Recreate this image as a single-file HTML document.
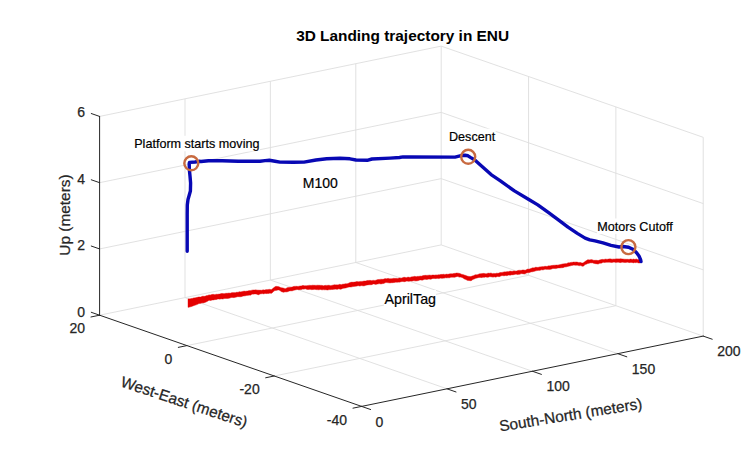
<!DOCTYPE html>
<html><head><meta charset="utf-8"><title>3D Landing trajectory in ENU</title>
<style>
html,body{margin:0;padding:0;background:#fff;width:750px;height:450px;overflow:hidden}
svg{display:block}
</style></head><body>
<svg width="750" height="450" viewBox="0 0 750 450">
<rect width="750" height="450" fill="#fff"/>
<g stroke="#dedede" stroke-width="0.9" fill="none">
<line x1="185" y1="297.62" x2="185" y2="98.84"/>
<line x1="270.4" y1="280.05" x2="270.4" y2="81.27"/>
<line x1="355.8" y1="262.48" x2="355.8" y2="63.69"/>
<line x1="441.2" y1="244.9" x2="441.2" y2="46.12"/>
<line x1="99.6" y1="315.2" x2="441.2" y2="244.9"/>
<line x1="99.6" y1="248.94" x2="441.2" y2="178.64"/>
<line x1="99.6" y1="182.68" x2="441.2" y2="112.38"/>
<line x1="99.6" y1="116.42" x2="441.2" y2="46.12"/>
<line x1="528.54" y1="275.3" x2="528.54" y2="76.52"/>
<line x1="615.88" y1="305.7" x2="615.88" y2="106.92"/>
<line x1="703.22" y1="336.1" x2="703.22" y2="137.32"/>
<line x1="441.2" y1="244.9" x2="703.22" y2="336.1"/>
<line x1="441.2" y1="178.64" x2="703.22" y2="269.84"/>
<line x1="441.2" y1="112.38" x2="703.22" y2="203.58"/>
<line x1="441.2" y1="46.12" x2="703.22" y2="137.32"/>
<line x1="185" y1="297.62" x2="447.02" y2="388.82"/>
<line x1="270.4" y1="280.05" x2="532.42" y2="371.25"/>
<line x1="355.8" y1="262.48" x2="617.82" y2="353.68"/>
<line x1="186.94" y1="345.6" x2="528.54" y2="275.3"/>
<line x1="274.28" y1="376" x2="615.88" y2="305.7"/>
</g>
<g stroke="#262626" stroke-width="1" fill="none" stroke-linecap="round">
<line x1="99.6" y1="315.2" x2="99.6" y2="116.42"/>
<line x1="99.6" y1="315.2" x2="361.62" y2="406.4"/>
<line x1="361.62" y1="406.4" x2="703.22" y2="336.1"/>
<line x1="99.6" y1="315.2" x2="91.29" y2="312.31"/>
<line x1="99.6" y1="248.94" x2="91.29" y2="246.05"/>
<line x1="99.6" y1="182.68" x2="91.29" y2="179.79"/>
<line x1="99.6" y1="116.42" x2="91.29" y2="113.53"/>
<line x1="99.6" y1="315.2" x2="90.98" y2="316.97"/>
<line x1="186.94" y1="345.6" x2="178.32" y2="347.37"/>
<line x1="274.28" y1="376" x2="265.66" y2="377.77"/>
<line x1="361.62" y1="406.4" x2="353" y2="408.17"/>
<line x1="361.62" y1="406.4" x2="370.6" y2="409.52"/>
<line x1="447.02" y1="388.82" x2="456" y2="391.95"/>
<line x1="532.42" y1="371.25" x2="541.4" y2="374.37"/>
<line x1="617.82" y1="353.68" x2="626.8" y2="356.8"/>
<line x1="703.22" y1="336.1" x2="712.2" y2="339.22"/>
</g>
<g fill="#262626" stroke="#262626" stroke-width="0.25" font-family="'Liberation Sans', Arial, Helvetica, sans-serif" font-size="14px">
<text x="85.1" y="317.4" text-anchor="end">0</text>
<text x="85.1" y="250.14" text-anchor="end">2</text>
<text x="85.1" y="183.88" text-anchor="end">4</text>
<text x="85.1" y="116.62" text-anchor="end">6</text>
<text x="85" y="332.8" text-anchor="end">20</text>
<text x="172.34" y="363.9" text-anchor="end">0</text>
<text x="259.68" y="394.3" text-anchor="end">-20</text>
<text x="347.02" y="424.7" text-anchor="end">-40</text>
<text x="375.62" y="426.6">0</text>
<text x="461.02" y="409.02">50</text>
<text x="546.42" y="391.45">100</text>
<text x="631.82" y="374.48">150</text>
<text x="717.22" y="356.3">200</text>
</g>
<text x="402.6" y="41" text-anchor="middle" font-family="'Liberation Sans', Arial, Helvetica, sans-serif" font-weight="bold" font-size="15.4px" fill="#000">3D Landing trajectory in ENU</text>
<g font-family="'Liberation Sans', Arial, Helvetica, sans-serif" font-size="15.4px" fill="#262626" stroke="#262626" stroke-width="0.25">
<text transform="translate(69.9,215) rotate(-90)" text-anchor="middle">Up (meters)</text>
<text transform="translate(119.8,386.2) rotate(18.3)">West-East (meters)</text>
<text transform="translate(500.2,431.6) rotate(-9.2)">South-North (meters)</text>
</g>
<polygon points="188,299.08 189,298.78 190,298.96 191,298.39 192,298.54 193,298.25 194,297.86 195,298.01 196,297.48 197,297.56 198,297.11 199,296.93 200,296.97 201,297.06 202,296.37 203,296.25 204,296.33 205,296.36 206,295.84 207,295.45 208,295.6 209,294.68 210,295.16 211,294.67 212,294.48 213,294.37 214,294.41 215,294.68 216,294.14 217,294.33 218,294.28 219,294 220,294.03 221,293.59 222,293.49 223,293.49 224,293.73 225,293.45 226,293.27 227,293.36 228,293.17 229,292.96 230,293.21 231,293.03 232,292.6 233,292.72 234,292.58 235,292.71 236,292.5 237,292.08 238,292.46 239,291.74 240,291.84 241,291.94 242,291.38 243,291.47 244,291.02 245,291.32 246,291.25 247,290.97 248,291.04 249,290.51 250,290.64 251,290.39 252,290.2 253,289.93 254,290.02 255,289.91 256,289.82 257,290.18 258,289.99 259,290.29 260,290.1 261,290.34 262,290.21 263,289.82 264,289.88 265,290.07 266,289.54 267,289.78 268,289.5 269,289.4 270,289.28 271,289.71 272,289.19 273,288.32 274,287.47 275,286.86 276,286.28 277,286.51 278,286.56 279,286.77 280,287.22 281,287.75 282,287.84 283,288.07 284,288.17 285,288.67 286,288.53 287,287.77 288,287.59 289,287.43 290,287.24 291,287.22 292,287.1 293,286.67 294,286.3 295,286.39 296,286.26 297,286.3 298,286.47 299,286.18 300,285.96 301,285.93 302,285.87 303,285.34 304,285.83 305,285.65 306,285.72 307,285.67 308,285.39 309,285.4 310,285.2 311,285.57 312,285.18 313,285.19 314,285.29 315,285.26 316,285.4 317,285.21 318,285.18 319,285.3 320,285.27 321,285.46 322,285.24 323,285.84 324,285.67 325,285.35 326,285.38 327,285.39 328,285.35 329,285.14 330,285.59 331,285.65 332,285.23 333,285.19 334,284.86 335,284.82 336,284.89 337,284.74 338,285.03 339,284.46 340,284.27 341,284.82 342,284.42 343,284.05 344,284.23 345,283.77 346,283.82 347,283.83 348,283.45 349,283.04 350,282.43 351,282.37 352,282.09 353,282.37 354,282.06 355,282.1 356,281.64 357,281.43 358,281.7 359,281.68 360,281.45 361,281.39 362,281.38 363,281.31 364,280.93 365,281.11 366,280.88 367,280.53 368,280.41 369,280.47 370,280.33 371,280.54 372,280.64 373,280.19 374,280.45 375,280.39 376,280.28 377,279.78 378,279.58 379,279.5 380,279.39 381,279.19 382,279.29 383,279.28 384,279.04 385,278.59 386,278.69 387,278.77 388,278.25 389,278.63 390,278.79 391,278.68 392,278.64 393,278.42 394,278.19 395,278.6 396,278.19 397,278.43 398,278.46 399,277.97 400,277.88 401,278.17 402,277.93 403,277.45 404,277.33 405,277.26 406,277.69 407,277.53 408,276.98 409,277.37 410,277.39 411,277.07 412,276.77 413,276.81 414,276.43 415,276.26 416,276.82 417,276.48 418,276.29 419,276.46 420,276 421,276.2 422,276.06 423,275.52 424,275.44 425,275.36 426,275.26 427,275.45 428,275.17 429,275.22 430,274.97 431,275.46 432,275.01 433,275.03 434,275.06 435,275.23 436,274.84 437,275.14 438,274.8 439,274.77 440,274.72 441,274.31 442,274.56 443,274.33 444,274.15 445,274.66 446,274.12 447,274.23 448,274.31 449,274.09 450,273.83 451,273.86 452,273.79 453,273.85 454,273.27 455,273.49 456,273.11 457,272.96 458,273.14 459,273.26 460,273.59 461,274.03 462,274.44 463,274.41 464,274.9 465,275.19 466,275.57 467,276.06 468,276.27 469,276.47 470,276.58 471,276.58 472,276.08 473,275.87 474,275.59 475,274.78 476,274.79 477,274.86 478,274.59 479,273.9 480,273.69 481,273.82 482,273.48 483,273.51 484,273.31 485,273.64 486,273.64 487,273.63 488,273.03 489,273.34 490,273.21 491,272.92 492,273.51 493,273.64 494,273.18 495,273.77 496,273.23 497,273.14 498,273.34 499,273.08 500,272.46 501,272.5 502,272.41 503,272.14 504,271.89 505,271.82 506,272.01 507,271.41 508,271.69 509,271.51 510,271.11 511,271.23 512,271.34 513,271.16 514,270.75 515,271.29 516,271.05 517,271.08 518,270.37 519,270.39 520,270.13 521,270.55 522,270.09 523,269.89 524,270 525,270.24 526,269.93 527,269.29 528,268.97 529,269.26 530,268.77 531,268.62 532,267.95 533,267.68 534,267.88 535,267.45 536,267.09 537,267.59 538,267.26 539,267.27 540,266.66 541,267.09 542,266.43 543,266.87 544,266.48 545,266.29 546,266.34 547,266.5 548,265.94 549,265.74 550,265.92 551,265.62 552,265.43 553,265.36 554,265.19 555,265.19 556,265.12 557,264.96 558,265.13 559,264.65 560,264.65 561,264.27 562,264.24 563,263.86 564,263.88 565,263.56 566,263.79 567,263.4 568,262.87 569,262.8 570,262.85 571,262.14 572,262.51 573,262.11 574,262.03 575,262.13 576,261.93 577,262.1 578,262.33 579,262.64 580,262.29 581,262.8 582,262.88 583,263 584,262.23 585,261.59 586,260.79 587,260.24 588,259.6 589,260.07 590,259.73 591,259.66 592,259.61 593,260.14 594,260.32 595,260.34 596,260.23 597,260.36 598,260.56 599,260.36 600,259.84 601,259.73 602,259.29 603,259.47 604,259.48 605,259.18 606,258.97 607,259.48 608,259.02 609,259.05 610,258.8 611,259.07 612,259.13 613,259.15 614,258.94 615,259.15 616,258.8 617,258.98 618,258.86 619,259.08 620,258.83 621,258.82 622,259.01 623,258.96 624,259.21 625,259.17 626,259.33 627,259.26 628.04,259.31 629.07,259.43 630.11,259.09 631.14,259.06 632.18,259.53 633.21,258.95 634.25,259.36 635.29,259.31 636.32,258.89 637.36,259.46 638.39,259.5 639.43,259.32 640.46,259.41 641.5,259.47 641.5,262.54 640.46,262.63 639.43,263.05 638.39,262.94 637.36,262.61 636.32,262.54 635.29,262.67 634.25,262.47 633.21,262.9 632.18,262.42 631.14,262.38 630.11,262.45 629.07,262.63 628.04,262.24 627,262.16 626,262.55 625,262.49 624,262.38 623,262.17 622,262.14 621,262.48 620,262.66 619,262.24 618,262.32 617,262.23 616,262.57 615,262.33 614,262.11 613,262.24 612,262.56 611,262.52 610,262.28 609,262.24 608,262.2 607,262.36 606,262.25 605,262.53 604,262.52 603,262.17 602,263.05 601,263.22 600,263.15 599,263.57 598,264.16 597,263.65 596,263.88 595,263.48 594,263.59 593,262.88 592,262.83 591,262.96 590,262.78 589,263.39 588,263.34 587,263.92 586,264.28 585,264.62 584,265.84 583,266.21 582,266.15 581,265.58 580,265.61 579,265.84 578,265.33 577,265.18 576,265.25 575,265.37 574,265.03 573,265.26 572,265.43 571,265.57 570,266.12 569,266.09 568,266.46 567,266.5 566,267.11 565,266.83 564,267.37 563,267.64 562,267.72 561,267.82 560,267.93 559,267.94 558,267.96 557,268.26 556,268.6 555,268.6 554,268.42 553,268.51 552,268.74 551,269.34 550,269.37 549,269.54 548,269.18 547,269.44 546,269.17 545,269.3 544,269.55 543,270.04 542,269.78 541,269.83 540,270.45 539,270.28 538,270.38 537,270.52 536,270.85 535,271.09 534,271.39 533,271.6 532,271.91 531,271.74 530,272.52 529,272.49 528,272.71 527,272.85 526,273.21 525,273.87 524,273.97 523,273.73 522,273.66 521,273.62 520,274.36 519,274.24 518,274.54 517,274.53 516,274.1 515,274.39 514,274.52 513,274.9 512,274.68 511,275.03 510,275.37 509,274.99 508,275.14 507,275.63 506,275.62 505,275.38 504,275.99 503,275.54 502,275.67 501,275.83 500,276.49 499,276.67 498,276.54 497,276.42 496,277.18 495,276.95 494,276.81 493,277.28 492,276.87 491,276.91 490,276.58 489,276.92 488,277.26 487,277.32 486,277.06 485,277.02 484,277.61 483,277.09 482,277.74 481,277.38 480,277.4 479,277.4 478,277.72 477,278.03 476,278.26 475,278.47 474,279.14 473,279.16 472,280.13 471,280.74 470,280.68 469,280.48 468,280.6 467,280.2 466,279.56 465,279.22 464,278.78 463,277.98 462,277.44 461,277.14 460,276.9 459,277.18 458,276.35 457,276.64 456,276.64 455,277.36 454,277.27 453,277.19 452,277.16 451,277.23 450,277.55 449,277.97 448,277.61 447,278.03 446,277.76 445,277.86 444,278.32 443,278.02 442,278.53 441,278.04 440,278.3 439,278.52 438,278.61 437,278.24 436,278.63 435,278.49 434,278.53 433,278.41 432,278.64 431,279.23 430,279.14 429,278.95 428,279.16 427,279.43 426,279.4 425,279.17 424,279.51 423,279.92 422,280.24 421,279.88 420,280.01 419,280.32 418,280.75 417,280.72 416,281.08 415,280.87 414,280.82 413,280.68 412,281.15 411,280.95 410,281.12 409,281.32 408,281.34 407,281.08 406,281.17 405,281.64 404,281.69 403,281.51 402,281.51 401,281.72 400,282.05 399,282.33 398,281.94 397,282.42 396,281.99 395,282.44 394,282.42 393,282.69 392,282.65 391,282.76 390,282.96 389,282.83 388,282.77 387,282.56 386,282.58 385,282.72 384,283.43 383,283.55 382,283.73 381,284 380,283.82 379,283.61 378,284.08 377,284.06 376,284.42 375,284.35 374,283.93 373,283.99 372,284.64 371,284.68 370,284.82 369,284.7 368,284.91 367,285.04 366,285.3 365,285.5 364,285.97 363,285.83 362,285.76 361,285.52 360,286.13 359,285.75 358,285.71 357,286.02 356,286.15 355,286.37 354,286.4 353,286.51 352,286.85 351,287.06 350,286.95 349,287.03 348,287.32 347,287.51 346,287.99 345,288.11 344,288.28 343,288.35 342,288.66 341,289.15 340,289.18 339,288.8 338,289.1 337,289.48 336,289.1 335,289.16 334,289.22 333,289.43 332,289.59 331,289.46 330,289.76 329,289.53 328,290.08 327,289.97 326,289.71 325,289.79 324,289.84 323,289.56 322,290.08 321,289.42 320,289.55 319,289.76 318,289.8 317,289.55 316,289.7 315,289.18 314,289.61 313,289.44 312,289.67 311,289.61 310,289.37 309,289.45 308,289.45 307,289.46 306,289.01 305,288.83 304,289.16 303,289.09 302,289.17 301,289.75 300,289.4 299,289.88 298,289.47 297,289.53 296,289.79 295,290 294,290.15 293,290.5 292,290.98 291,290.76 290,290.94 289,291.07 288,291.7 287,291.76 286,292.1 285,291.73 284,292.24 283,292.18 282,291.65 281,291.6 280,290.6 279,289.99 278,289.97 277,290.21 276,290.44 275,290.59 274,291.07 273,291.9 272,293.04 271,293.4 270,293 269,293.41 268,293.61 267,293.41 266,293.7 265,293.29 264,293.96 263,293.75 262,293.57 261,293.97 260,293.8 259,294.76 258,294.7 257,294.3 256,294 255,293.93 254,294.1 253,294.13 252,294.1 251,295.03 250,295.33 249,294.96 248,295.62 247,295.24 246,295.66 245,295.83 244,296.03 243,296.04 242,296.48 241,296.66 240,296.82 239,296.67 238,296.65 237,296.75 236,297.27 235,297.21 234,297.65 233,297.44 232,297.49 231,297.57 230,298.1 229,298.18 228,298.39 227,298.43 226,298.39 225,298.42 224,298.6 223,299.03 222,298.97 221,298.69 220,299.16 219,298.97 218,298.97 217,299.24 216,299.71 215,299.38 214,299.93 213,299.98 212,300.09 211,300.4 210,300.57 209,300.15 208,300.96 207,301.55 206,301.98 205,302.44 204,302.66 203,303.12 202,302.87 201,303.31 200,303.42 199,303.61 198,304.02 197,304.61 196,304.86 195,305.27 194,305.43 193,305.97 192,306.33 191,306.72 190,306.86 189,307.25 188,307.35" fill="#e40000" stroke="#e40000" stroke-width="0.4" stroke-linejoin="round"/>
<polyline points="187.2,251.3 187.2,215 187.3,205 188,199.5 189,196 190.4,191 190.6,183 190,176 189.4,170 189.2,163.5 189.5,162.4 195,162 199,161.3 201,161.5 208.5,160.7 222.3,160.7 238.3,161.2 254.3,161.2 260,161.2 265,160.6 269.3,160.3 275,161.2 280,162.1 293.3,162.3 304,162.1 316,160 326.7,158.7 340,158.3 350,158.8 356,160 368,160.2 372,159 390,158.1 399.5,157.5 403,156.9 410,157 455,157.1 459,156.2 462,155.5 465,155.3 468,155.8 470.4,157.4 474.8,160 481.8,166.2 491.1,174.6 500.4,180.8 514.4,190.9 528.4,199.3 537.8,204.9 549.3,213.2 558.7,220.2 568,227.2 577.3,233.4 585.1,238.1 589.8,239.8 595,240.8 603,242.8 611,245.3 619,247 623,246.5 628.6,247.2 633.4,249.6 636.6,252.8 639,256 640.6,259.6 641,261.5" fill="none" stroke="#0808b4" stroke-width="3.4" stroke-linejoin="round" stroke-linecap="round"/>
<g fill="none" stroke="#c86a40" stroke-width="2.4">
<circle cx="191.3" cy="163.3" r="7"/>
<circle cx="468.2" cy="156.8" r="7"/>
<circle cx="628.4" cy="247.1" r="7"/>
</g>
<g fill="#fff">
<rect x="134.2" y="135.8" width="125.5" height="15.5"/>
<rect x="448.8" y="128.6" width="46.8" height="15.4"/>
<rect x="597" y="218.5" width="76.3" height="15.4"/>
<rect x="302.8" y="174.2" width="35" height="17"/>
<rect x="384" y="290" width="52" height="17.4"/>
</g>
<g font-family="'Liberation Sans', Arial, Helvetica, sans-serif" fill="#000" stroke="#000" stroke-width="0.2">
<text x="134.2" y="148.1" font-size="12.6px">Platform starts moving</text>
<text x="449" y="140.9" font-size="12.6px">Descent</text>
<text x="597.3" y="230.8" font-size="12.6px">Motors Cutoff</text>
<text x="302.8" y="187.8" font-size="14px">M100</text>
<text x="384.4" y="303.8" font-size="14.3px">AprilTag</text>
</g>
</svg>
</body></html>
